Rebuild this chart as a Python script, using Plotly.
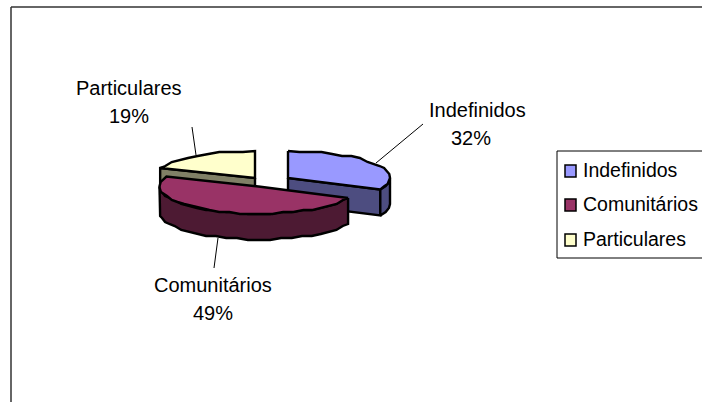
import numpy as np
import plotly.graph_objects as go

# chart data
categories = ['Indefinidos', 'Comunitários', 'Particulares']
percent = [32, 49, 19]
top_colors = ['#9999FF', '#993366', '#FFFFCC']
side_colors = ['#4D4D80', '#4D1A33', '#808066']

##### pie geometry, pixels because the axes are 0-702 / 402-0 #####
RY = 27
DEPTH = 26
radius_x = [102, 99, 102]
centers = [(288, 178), (258.5, 186.5), (255, 178)]
FONT = dict(family='Liberation Sans, Arial, sans-serif', size=20, color='black')
LEGEND_FONT = dict(family='Liberation Sans, Arial, sans-serif', size=19.5, color='black')

def arc(cx, cy, rx, a0, a1):
    # angles in degrees, clockwise from the top of the pie
    # coarse steps and y on a 2 px grid, the edges in the reference are wobbly too
    n = max(int(abs(a1 - a0) / 6), 2)
    a = np.radians(np.linspace(a0, a1, n))
    y = cy - RY * np.cos(a)
    y[1:-1] = np.round(y[1:-1] / 2) * 2
    return cx + rx * np.sin(a), y

def poly(fig, x, y, color):
    fig.add_trace(go.Scatter(x=np.append(x, x[0]), y=np.append(y, y[0]), mode='lines', fill='toself',
                             fillcolor=color, line=dict(color='black', width=2.4), hoverinfo='skip',
                             showlegend=False))

def wall(fig, cx, cy, rx, a0, a1, color):
    x, y = arc(cx, cy, rx, a0, a1)
    poly(fig, np.concatenate([x, x[::-1]]), np.concatenate([y, y[::-1] + DEPTH]), color)

def cut(fig, cx, cy, rx, a, color):
    x, y = arc(cx, cy, rx, a, a + 0.01)
    poly(fig, np.array([cx, x[0], x[0], cx]), np.array([cy, y[0], y[0] + DEPTH, cy + DEPTH]), color)

# start/end angle of every slice
ends = np.cumsum(percent) * 3.6
starts = np.concatenate([[0], ends[:-1]])

fig = go.Figure()

# Indefinidos
cx, cy = centers[0]
cut(fig, cx, cy, radius_x[0], ends[0], side_colors[0])
wall(fig, cx, cy, radius_x[0], 90, ends[0], side_colors[0])
x, y = arc(cx, cy, radius_x[0], starts[0], ends[0])
poly(fig, np.append(x, cx), np.append(y, cy), top_colors[0])

# Particulares, behind the big slice
cx, cy = centers[2]
cut(fig, cx, cy, radius_x[2], starts[2], side_colors[2])
x, y = arc(cx, cy, radius_x[2], starts[2], ends[2])
poly(fig, np.append(x, cx), np.append(y, cy), top_colors[2])

# Comunitarios
cx, cy = centers[1]
wall(fig, cx, cy, radius_x[1], ends[0], 270, side_colors[1])
x, y = arc(cx, cy, radius_x[1], starts[1], ends[1])
poly(fig, np.append(x, cx), np.append(y, cy), top_colors[1])

##### leader lines and labels #####
shapes = []
for x0, y0, x1, y1 in [(376, 163, 423, 124), (218, 238, 214, 268), (196, 155, 192, 127)]:
    shapes.append(dict(type='line', x0=x0, y0=y0, x1=x1, y1=y1, line=dict(color='black', width=1)))

annotations = []
for i, (lx, ly, px) in enumerate([(477, 110, 471), (213, 285, 213), (129, 88, 129)]):
    annotations.append(dict(x=lx, y=ly, text=categories[i], showarrow=False, font=FONT,
                            xanchor='center', yanchor='middle'))
    annotations.append(dict(x=px, y=ly + 28, text=f'{percent[i]}%', showarrow=False, font=FONT,
                            xanchor='center', yanchor='middle'))

##### outer frame, only top and left are in the picture #####
shapes.append(dict(type='line', x0=11, y0=7, x1=702, y1=7, line=dict(color='#333333', width=1.5)))
shapes.append(dict(type='line', x0=11, y0=7, x1=11, y1=402, line=dict(color='#333333', width=1.5)))

##### legend box, its right edge falls on the picture edge #####
shapes.append(dict(type='rect', x0=557, y0=151, x1=703, y1=258, line=dict(color='black', width=1), fillcolor='white'))
for i, ly in enumerate([171, 205, 240]):
    shapes.append(dict(type='rect', x0=565, y0=ly - 6, x1=576, y1=ly + 6, fillcolor=top_colors[i],
                       line=dict(color='black', width=1.5)))
    annotations.append(dict(x=581, y=ly - 1, text=categories[i], showarrow=False, font=LEGEND_FONT,
                            xanchor='left', yanchor='middle'))

fig.update_layout(width=702, height=402, margin=dict(l=0, r=0, t=0, b=0), paper_bgcolor='white',
                  plot_bgcolor='white', shapes=shapes, annotations=annotations, showlegend=False)
fig.update_xaxes(range=[0, 702], visible=False, fixedrange=True)
fig.update_yaxes(range=[402, 0], visible=False, fixedrange=True)

fig.write_html("out.html", config=dict(displayModeBar=False),
               post_script="document.body.style.margin='0';document.documentElement.style.overflow='hidden';")
